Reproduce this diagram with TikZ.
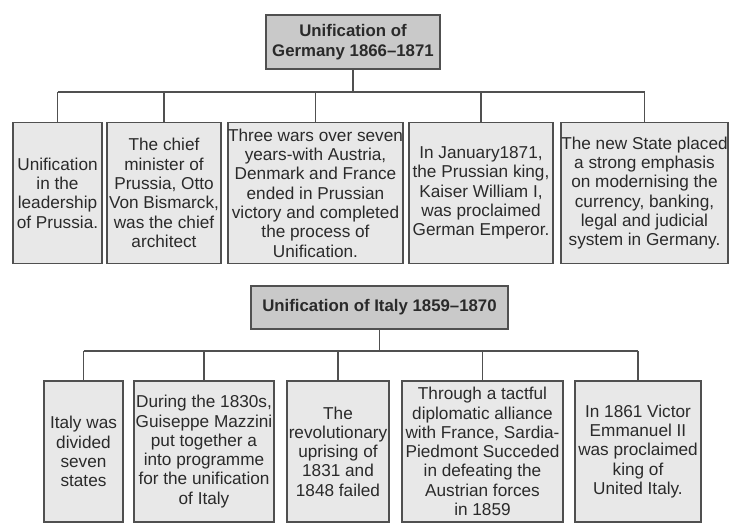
\documentclass[tikz,border=0pt]{standalone}
\usepackage{fontspec}
\setmainfont{Liberation Sans}
\definecolor{boxfill}{HTML}{E8E8E8}
\definecolor{titlefill}{HTML}{C9C9C9}
\definecolor{edge}{HTML}{505050}
\definecolor{ink}{HTML}{2A2A2A}
\begin{document}
\begin{tikzpicture}[x=1pt,y=-1pt,
  infobox/.style={draw=edge, line width=1.3pt, fill=boxfill, text=ink, align=center,
    inner sep=0pt, font=\fontsize{17.2}{19.3}\selectfont, minimum height=141pt},
  titlebox/.style={draw=edge, line width=1.3pt, fill=titlefill, text=ink, align=center,
    inner sep=0pt, font=\fontsize{16.8}{20}\selectfont\bfseries},
  link/.style={draw=edge, line width=1.3pt}]
\useasboundingbox (0,0) rectangle (737,525);
% Germany
\node[titlebox, minimum width=174pt, minimum height=54pt] (t1) at (353,42) {Unification of\\Germany 1866--1871};
\node[infobox, minimum width=89pt]  (b1) at (57.5,193) {Unification\\in the\\leadership\\of Prussia.};
\node[infobox, minimum width=114pt] (b2) at (164,193) {The chief\\minister of\\Prussia, Otto\\Von Bismarck,\\was the chief\\architect};
\node[infobox, minimum width=175pt] (b3) at (315.5,193) {Three wars over seven\\years-with Austria,\\Denmark and France\\ended in Prussian\\victory and completed\\the process of\\Unification.};
\node[infobox, minimum width=144pt] (b4) at (481,193) {In January1871,\\the Prussian king,\\Kaiser William I,\\was proclaimed\\German Emperor.};
\node[infobox, minimum width=167pt] (b5) at (644.5,193) {The new State placed\\a strong emphasis\\on modernising the\\currency, banking,\\legal and judicial\\system in Germany.};
\coordinate (bus1) at (0,92);
\draw[link] (t1.south) -- (t1.south |- bus1);
\draw[link] (b1.north |- bus1) -- (b5.north |- bus1);
\foreach \b in {b1,b2,b3,b4,b5} \draw[link] (\b.north) -- (\b.north |- bus1);
% Italy
\node[titlebox, minimum width=257pt, minimum height=43pt] (t2) at (379.5,307.5) {Unification of Italy 1859--1870};
\node[infobox, minimum width=79pt]  (c1) at (83.5,451.5) {Italy was\\divided\\seven\\states};
\node[infobox, minimum width=140pt] (c2) at (204,451.5) {During the 1830s,\\Guiseppe Mazzini\\put together a\\into programme\\for the unification\\of Italy};
\node[infobox, minimum width=102pt] (c3) at (338,451.5) {The\\revolutionary\\uprising of\\1831 and\\1848 failed};
\node[infobox, minimum width=161pt] (c4) at (482.5,451.5) {Through a tactful\\diplomatic alliance\\with France, Sardia-\\Piedmont Succeded\\in defeating the\\Austrian forces\\in 1859};
\node[infobox, minimum width=126pt] (c5) at (638,451.5) {In 1861 Victor\\Emmanuel II\\was proclaimed\\king of\\United Italy.};
\coordinate (bus2) at (0,351);
\draw[link] (t2.south) -- (t2.south |- bus2);
\draw[link] (c1.north |- bus2) -- (c5.north |- bus2);
\foreach \b in {c1,c2,c3,c4,c5} \draw[link] (\b.north) -- (\b.north |- bus2);
\end{tikzpicture}
\end{document}
